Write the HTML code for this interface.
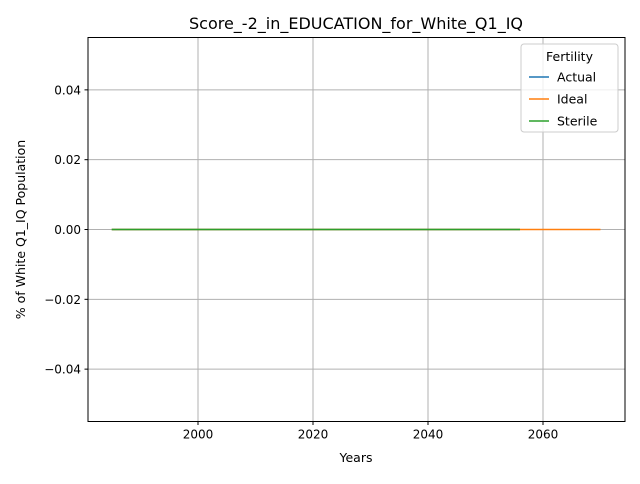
<!DOCTYPE html>
<html><head><meta charset="utf-8"><style>
body{margin:0;background:#fff;font-family:"DejaVu Sans","Liberation Sans",sans-serif}
</style></head><body>
<svg id="chart" width="640" height="480" xmlns="http://www.w3.org/2000/svg" font-family="DejaVu Sans, Liberation Sans, sans-serif">
<rect width="640" height="480" fill="#fff"/>
<text x="356" y="29" text-anchor="middle" font-size="16">Score_-2_in_EDUCATION_for_White_Q1_IQ</text>
<g id="grid"></g>
<g id="series"></g>
<rect x="88" y="37.5" width="537" height="384" fill="none" stroke="#000" stroke-width="1"/>
<g id="ticks"></g>
<text x="356" y="462" text-anchor="middle" font-size="12.5">Years</text>
<text transform="translate(25,229.5) rotate(-90)" text-anchor="middle" font-size="12.5">% of White Q1_IQ Population</text>
<g>
<rect x="521" y="44" width="97" height="88" rx="3" fill="#fff" fill-opacity="0.8" stroke="#ccc"/>
<text x="569.5" y="61" text-anchor="middle" font-size="12.5">Fertility</text>
<g id="legend-entries"></g>
</g>
</svg>
<script>
const years = [1985, 2056, 2070];
const seriesNames = ['Actual', 'Ideal', 'Sterile'];
const seriesColors = ['#1f77b4', '#ff7f0e', '#2ca02c'];
const actualX = [1985, 2056];
const actualY = [0, 0];
const idealX = [1985, 2070];
const idealY = [0, 0];
const sterileX = [1985, 2056];
const sterileY = [0, 0];
const xTicks = [2000, 2020, 2040, 2060];
const yTicks = [-0.04, -0.02, 0, 0.02, 0.04];
const yTickLabels = ['\u22120.04', '\u22120.02', '0.00', '0.02', '0.04'];

const L=88,R=625,T=37.5,B=421.5,xmin=1980.87,xmax=2074.26,ymin=-0.055,ymax=0.055;
const sx=v=>L+(v-xmin)/(xmax-xmin)*(R-L);
const sy=v=>B-(v-ymin)/(ymax-ymin)*(B-T);
const NS='http://www.w3.org/2000/svg';
function mk(tag,attrs,parent){const e=document.createElementNS(NS,tag);for(const k in attrs)e.setAttribute(k,attrs[k]);parent.appendChild(e);return e;}
const grid=document.getElementById('grid'),ticks=document.getElementById('ticks'),ser=document.getElementById('series'),leg=document.getElementById('legend-entries');
xTicks.forEach(t=>{const x=sx(t);
 const g=mk('line',{x1:x,x2:x,y1:T,y2:B,stroke:'#b0b0b0','stroke-width':1},grid);
 
 
 mk('line',{x1:x,x2:x,y1:B,y2:B+3.5,stroke:'#000'},ticks);
 const tx=mk('text',{x:x,y:B+17,'text-anchor':'middle','font-size':12},ticks);tx.textContent=t;
 
 
});
yTicks.forEach((t,i)=>{const y=sy(t);
 const g=mk('line',{x1:L,x2:R,y1:y,y2:y,stroke:'#b0b0b0','stroke-width':1},grid);
 
 
 mk('line',{x1:L-3.5,x2:L,y1:y,y2:y,stroke:'#000'},ticks);
 const tx=mk('text',{x:L-7,y:y+4.5,'text-anchor':'end','font-size':12},ticks);tx.textContent=yTickLabels[i];
 
 
});
const data=[[actualX,actualY],[idealX,idealY],[sterileX,sterileY]];
data.forEach((d,i)=>{
 const pts=d[0].map((x,j)=>sx(x)+','+sy(d[1][j])).join(' ');
 const p=mk('polyline',{points:pts,fill:'none',stroke:seriesColors[i],'stroke-width':1.5},ser);
 
 
 const y=77+i*22;
 mk('line',{x1:529,x2:549,y1:y,y2:y,stroke:seriesColors[i],'stroke-width':1.5},leg);
 const tx=mk('text',{x:557,y:y+4.5,'font-size':12.5},leg);tx.textContent=seriesNames[i];
 
 
});
</script>
</body></html>
